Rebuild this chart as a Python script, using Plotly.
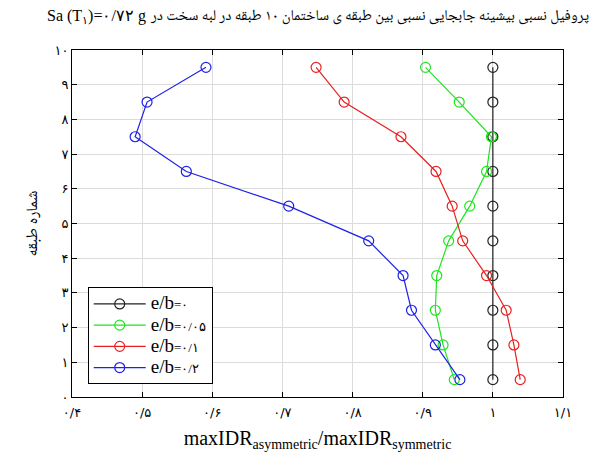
import plotly.graph_objects as go

# Story mid-heights and the IDR ratio for each eccentricity
stories = [0.5, 1.5, 2.5, 3.5, 4.5, 5.5, 6.5, 7.5, 8.5, 9.5]
ratio_e0 = [1.0, 1.0, 1.0, 1.0, 1.0, 1.0, 1.0, 1.0, 1.0, 1.0]
ratio_e005 = [0.945, 0.929, 0.918, 0.920, 0.937, 0.967, 0.991, 0.998, 0.952, 0.904]
ratio_e01 = [1.039, 1.030, 1.019, 0.991, 0.957, 0.942, 0.919, 0.869, 0.788, 0.748]
ratio_e02 = [0.953, 0.918, 0.884, 0.872, 0.823, 0.709, 0.563, 0.490, 0.507, 0.591]

x_ticks = [0.4, 0.5, 0.6, 0.7, 0.8, 0.9, 1.0, 1.1]
x_tick_text = ["۰/۴", "۰/۵", "۰/۶", "۰/۷", "۰/۸", "۰/۹", "۱", "۱/۱"]
y_ticks = list(range(0, 11))
y_tick_text = ["۰", "۱", "۲", "۳", "۴", "۵", "۶", "۷", "۸", "۹", "۱۰"]

ecc_labels = ["۰", "۰/۰۵", "۰/۱", "۰/۲"]
series_vals = [ratio_e0, ratio_e005, ratio_e01, ratio_e02]
series_colors = ["#222222", "#1ee61e", "#e82020", "#2020e8"]

fig = go.Figure()
for lab, vals, color in zip(ecc_labels, series_vals, series_colors):
    fig.add_trace(go.Scatter(
        x=vals, y=stories,
        name=f"<span style='font-size:19px'>e/b</span><span style='font-size:13px'>={lab}</span>",
        mode="lines+markers",
        line=dict(color=color, width=1.2),
        marker=dict(symbol="circle-open", size=10, color=color, line=dict(width=1.2)),
    ))

axis_common = dict(
    showline=True, linecolor="black", linewidth=1, mirror="ticks",
    ticks="inside", ticklen=5, tickcolor="black",
    showgrid=True, gridcolor="#dcdcdc", gridwidth=1, zeroline=False,
    tickfont=dict(family="DejaVu Sans", size=13, color="black"),
)

persian_font = "Noto Naskh Arabic, DejaVu Sans"

fig.update_layout(
    width=591, height=461,
    margin=dict(l=72, r=28, t=50, b=64),
    paper_bgcolor="white", plot_bgcolor="white",
    xaxis=dict(
        range=[0.4, 1.1], tickvals=x_ticks, ticktext=x_tick_text,
        ticklabelstandoff=3,
        title=dict(text="maxIDR<sub>asymmetric</sub>/maxIDR<sub>symmetric</sub>",
                   font=dict(family="Liberation Serif", size=20, color="black"), standoff=12),
        **axis_common,
    ),
    yaxis=dict(
        range=[0, 10], tickvals=y_ticks, ticktext=y_tick_text,
        title=dict(text="شماره طبقه", font=dict(family=persian_font, size=16, color="black"), standoff=12),
        **axis_common,
    ),
    legend=dict(
        x=0.032, y=0.316, xanchor="left", yanchor="top",
        bgcolor="white", bordercolor="black", borderwidth=1,
        font=dict(family="Liberation Serif", size=14, color="black"),
        tracegroupgap=0, itemwidth=52,
    ),
    showlegend=True,
)

# Title: Persian sentence on the right, the Sa(T1) expression at its left end
fig.add_annotation(
    text="پروفیل نسبی بیشینه جابجایی نسبی بین طبقه ی ساختمان ۱۰ طبقه در لبه سخت در",
    xref="paper", yref="paper", x=(591 - 72) / 491, y=1.0 + (50 - 17) / 347,
    xanchor="right", yanchor="middle", showarrow=False,
    font=dict(family=persian_font, size=15, color="black"),
)
fig.add_annotation(
    text="Sa (T<sub>۱</sub>)=۰/۷۲ g",
    xref="paper", yref="paper", x=(148 - 72) / 491, y=1.0 + (50 - 17) / 347,
    xanchor="right", yanchor="middle", showarrow=False,
    font=dict(family="Liberation Serif", size=16, color="black"),
)

fig.write_html("out.html")
